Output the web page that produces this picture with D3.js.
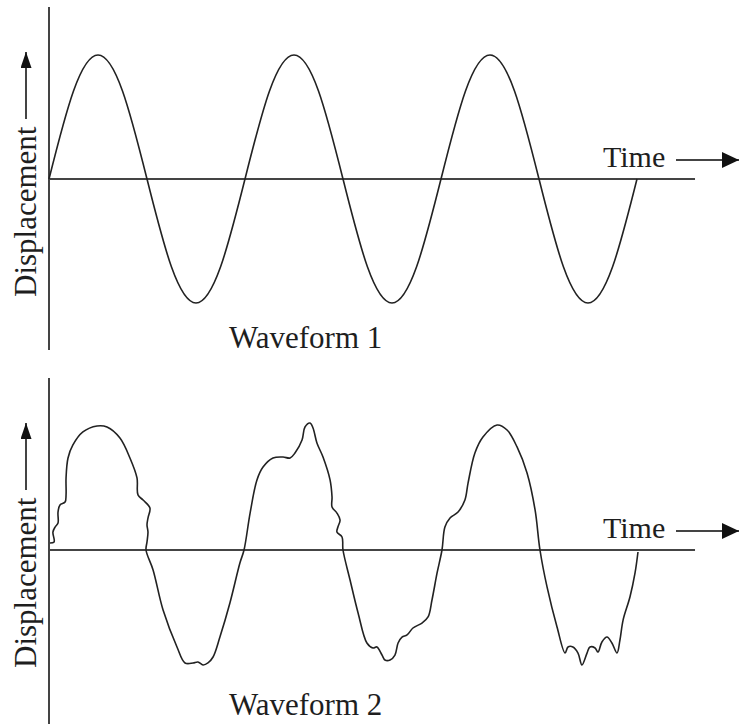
<!DOCTYPE html>
<html>
<head>
<meta charset="utf-8">
<script src="https://cdn.jsdelivr.net/npm/d3@7"></script>
<style>
  body { margin: 0; background: #fff; }
  svg { display: block; }
  text { font-family: "Liberation Serif", "Times New Roman", serif; fill: #1e1e1e; }
</style>
</head>
<body>
<div id="chart"></div>
<script>
// waveform 1: clean sine, read at eighth-period steps (time in periods)
const wave1Time = [0, 0.125, 0.25, 0.375, 0.5, 0.625, 0.75, 0.875,
                   1, 1.125, 1.25, 1.375, 1.5, 1.625, 1.75, 1.875,
                   2, 2.125, 2.25, 2.375, 2.5, 2.625, 2.75, 2.875, 3];
const wave1Disp = [0, 0.71, 1, 0.71, 0, -0.71, -1, -0.71,
                   0, 0.71, 1, 0.71, 0, -0.71, -1, -0.71,
                   0, 0.71, 1, 0.71, 0, -0.71, -1, -0.71, 0];

// waveform 2: distorted wave
const wave2Time = [0.005, 0.026, 0.020, 0.031, 0.046, 0.046, 0.056, 0.082, 0.087, 0.087,
  0.097, 0.122, 0.173, 0.245, 0.296, 0.362, 0.413, 0.449, 0.454, 0.480,
  0.515, 0.505, 0.500, 0.505, 0.500, 0.495, 0.531, 0.582, 0.653, 0.694,
  0.735, 0.760, 0.786, 0.811, 0.837, 0.872, 0.923, 0.974, 0.995, 1.026,
  1.061, 1.092, 1.143, 1.194, 1.230, 1.255, 1.291, 1.306, 1.332, 1.347,
  1.367, 1.398, 1.434, 1.444, 1.444, 1.469, 1.485, 1.474, 1.469, 1.495,
  1.500, 1.536, 1.577, 1.622, 1.653, 1.673, 1.699, 1.714, 1.740, 1.765,
  1.781, 1.801, 1.827, 1.857, 1.903, 1.934, 1.954, 1.980, 2.005, 2.020,
  2.046, 2.087, 2.122, 2.138, 2.173, 2.214, 2.286, 2.337, 2.388, 2.439,
  2.480, 2.505, 2.541, 2.592, 2.633, 2.648, 2.673, 2.699, 2.719, 2.745,
  2.760, 2.786, 2.801, 2.821, 2.847, 2.872, 2.898, 2.913, 2.929, 2.964,
  2.990, 3.005];
const wave2Disp = [0.056, 0.065, 0.145, 0.185, 0.218, 0.306, 0.363, 0.387, 0.444, 0.581,
  0.742, 0.847, 0.952, 1.000, 0.992, 0.903, 0.742, 0.581, 0.444, 0.403,
  0.339, 0.258, 0.202, 0.145, 0.065, 0, -0.161, -0.484, -0.782, -0.911,
  -0.911, -0.903, -0.927, -0.911, -0.863, -0.702, -0.427, -0.105, 0, 0.298,
  0.565, 0.669, 0.742, 0.750, 0.742, 0.782, 0.887, 0.992, 1.024, 0.984,
  0.863, 0.750, 0.565, 0.427, 0.347, 0.298, 0.242, 0.185, 0.145, 0.105,
  0, -0.242, -0.508, -0.750, -0.790, -0.782, -0.847, -0.887, -0.887, -0.847,
  -0.750, -0.702, -0.685, -0.629, -0.589, -0.540, -0.403, -0.185, 0, 0.185,
  0.258, 0.306, 0.403, 0.540, 0.782, 0.911, 1.008, 0.968, 0.831, 0.621,
  0.323, 0, -0.298, -0.621, -0.831, -0.782, -0.782, -0.831, -0.927, -0.831,
  -0.782, -0.790, -0.823, -0.742, -0.702, -0.750, -0.831, -0.726, -0.565, -0.379,
  -0.185, -0.016];

const panelTitles = ["Waveform 1", "Waveform 2"];
const xLabel = "Time";
const yLabel = "Displacement";

const width = 739, height = 724;
const svg = d3.select("#chart").append("svg")
    .attr("width", width)
    .attr("height", height);

// two arrow heads: the time one is fatter than the displacement one
const defs = svg.append("defs");
[["headX", 17, 16], ["headY", 16, 11]].forEach(([id, len, wid]) => {
  defs.append("marker")
      .attr("id", id)
      .attr("viewBox", `0 0 ${len} ${wid}`)
      .attr("refX", len).attr("refY", wid / 2)
      .attr("markerWidth", len).attr("markerHeight", wid)
      .attr("markerUnits", "userSpaceOnUse")
      .attr("orient", "auto")
    .append("path")
      .attr("d", `M0,0L${len},${wid / 2}L0,${wid}Z`)
      .attr("fill", "#111");
});

// time scale shared by both panels (in periods)
const x = d3.scaleLinear().domain([0, 3]).range([49, 637]);
const xEnd = 3.296; // how far the time axis line runs

const panels = [
  {title: panelTitles[0], time: wave1Time, disp: wave1Disp, y0: 179, top: 7, bottom: 350, titleY: 348},
  {title: panelTitles[1], time: wave2Time, disp: wave2Disp, y0: 550, top: 378, bottom: 724, titleY: 715}
];

panels.forEach((p, i) => {
  const y = d3.scaleLinear().domain([-1, 1]).range([p.y0 + 124, p.y0 - 124]);
  const g = svg.append("g");

  // vertical axis
  g.append("line")
    .attr("x1", x(0)).attr("x2", x(0))
    .attr("y1", p.top).attr("y2", p.bottom)
    .attr("stroke", "#444").attr("stroke-width", 2);

  // time axis
  g.append("line")
    .attr("x1", x(0)).attr("x2", x(xEnd))
    .attr("y1", y(0)).attr("y2", y(0))
    .attr("stroke", "#444").attr("stroke-width", 2);

  // waveform
  const pts = p.time.map((t, k) => [t, p.disp[k]]);
  const line = d3.line()
    .x(d => x(d[0]))
    .y(d => y(d[1]))
    .curve(i === 0 ? d3.curveNatural : d3.curveCatmullRom.alpha(0.5));
  g.append("path")
    .datum(pts)
    .attr("d", line)
    .attr("fill", "none")
    .attr("stroke", "#222")
    .attr("stroke-width", 1.6);

  // y label with arrow
  g.append("text")
    .attr("transform", `translate(${x(0) - 13}, ${y(0) + 118}) rotate(-90)`)
    .attr("font-size", 31)
    .text(yLabel);
  g.append("line")
    .attr("x1", 26).attr("x2", 26)
    .attr("y1", y(0) - 60).attr("y2", y(0) - 127)
    .attr("stroke", "#444").attr("stroke-width", 2)
    .attr("marker-end", "url(#headY)");

  // time label with arrow
  g.append("text")
    .attr("x", 603).attr("y", y(0) - 12)
    .attr("font-size", 30)
    .text(xLabel);
  g.append("line")
    .attr("x1", 676).attr("x2", 739)
    .attr("y1", y(0) - 19).attr("y2", y(0) - 19)
    .attr("stroke", "#444").attr("stroke-width", 2)
    .attr("marker-end", "url(#headX)");

  // panel title
  g.append("text")
    .attr("x", 229).attr("y", p.titleY)
    .attr("font-size", 31)
    .text(p.title);
});
</script>
</body>
</html>
